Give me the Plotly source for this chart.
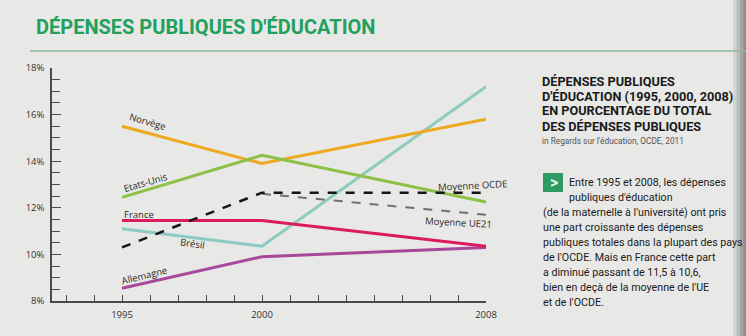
import plotly.graph_objects as go

# ---------------- data ----------------
years = [1995, 2000, 2008]
norvege = [15.5, 13.9, 15.8]
etats_unis = [12.45, 14.25, 12.25]
france = [11.45, 11.45, 10.35]
bresil = [11.1, 10.35, 17.2]
allemagne = [8.55, 9.9, 10.3]
moyenne_ocde = [10.3, 12.65, 12.65]
years_ue21 = [2000, 2008]
moyenne_ue21 = [12.6, 11.7]

y_ticks = [8, 10, 12, 14, 16, 18]
y_ticklabels = ["8%", "10%", "12%", "14%", "16%", "18%"]
x_ticks = [1995, 2000, 2008]

title = "DÉPENSES PUBLIQUES D'ÉDUCATION"
side_title = ["DÉPENSES PUBLIQUES", "D'ÉDUCATION (1995, 2000, 2008)",
              "EN POURCENTAGE DU TOTAL", "DES DÉPENSES PUBLIQUES"]
side_source = "in Regards sur l'éducation, OCDE, 2011"
side_text = ["Entre 1995 et 2008, les dépenses",
             "publiques d'éducation",
             "(de la maternelle à l'université) ont pris",
             "une part croissante des dépenses",
             "publiques totales dans la plupart des pays",
             "de l'OCDE. Mais en France cette part",
             "a diminué passant de 11,5 à 10,6,",
             "bien en deçà de la moyenne de l'UE",
             "et de l'OCDE."]

# ---------------- layout geometry ----------------
W, H = 746, 336
L, R, T, B = 52, 260, 68, 35
PW, PH = W - L - R, H - T - B


def px(xp):
    return (xp - L) / PW


def py(yp):
    return (H - B - yp) / PH


BG = "#E8E8E6"
fig = go.Figure()

series = [
    ("Brésil", years, bresil, "#8CCBC2", 3, "solid"),
    ("Norvège", years, norvege, "#EEA920", 3, "solid"),
    ("Etats-Unis", years, etats_unis, "#8DC047", 3, "solid"),
    ("Allemagne", years, allemagne, "#A7489C", 3, "solid"),
    ("France", years, france, "#DC1A5E", 3, "solid"),
    ("Moyenne UE21", years_ue21, moyenne_ue21, "#707070", 2, "dash"),
    ("Moyenne OCDE", years, moyenne_ocde, "#151515", 2.5, "dash"),
]
for name, xs, ys, col, w, dash in series:
    fig.add_trace(go.Scatter(x=xs, y=ys, mode="lines", name=name,
                             line=dict(color=col, width=w, dash=dash),
                             showlegend=False, hoverinfo="skip"))

lab_font = dict(family="Open Sans, sans-serif", size=9.5, color="#2a2a2a")
labels = [
    ("Norvège", 1995.9, 15.72, 16),
    ("Etats-Unis", 1995.85, 13.1, -16),
    ("France", 1995.6, 11.7, 0),
    ("Brésil", 1997.5, 10.45, 8),
    ("Allemagne", 1995.8, 9.1, -14),
    ("Moyenne OCDE", 2007.5, 12.95, -3),
    ("Moyenne UE21", 2007.0, 11.35, 3),
]
for text, x, y, ang in labels:
    fig.add_annotation(x=x, y=y, xref="x", yref="y", text=text, showarrow=False,
                       textangle=ang, font=lab_font)

# title
fig.add_annotation(x=px(34), y=py(27), xref="paper", yref="paper", xanchor="left",
                   yanchor="middle", text="<b>" + title + "</b>", showarrow=False,
                   font=dict(family="Roboto, sans-serif", size=20, color="#22A05C"))

# side header
for i, line in enumerate(side_title):
    fig.add_annotation(x=px(540), y=py(81 + 15 * i), xref="paper", yref="paper",
                       xanchor="left", yanchor="middle", text="<b>" + line + "</b>",
                       showarrow=False,
                       font=dict(family="Roboto, sans-serif", size=12.7, color="#1a1a1a"))
fig.add_annotation(x=px(540), y=py(141), xref="paper", yref="paper", xanchor="left",
                   yanchor="middle", text=side_source, showarrow=False,
                   font=dict(family="Roboto, sans-serif", size=8.3, color="#555555"))

for i, line in enumerate(side_text):
    xl = 567 if i < 2 else 541
    fig.add_annotation(x=px(xl), y=py(182 + 15.1 * i), xref="paper", yref="paper",
                       xanchor="left", yanchor="middle", text=line, showarrow=False,
                       font=dict(family="Roboto, sans-serif", size=10.7, color="#1a1a1a"))

# icon
fig.add_shape(type="rect", xref="paper", yref="paper", x0=px(543), x1=px(563),
              y0=py(192), y1=py(173), fillcolor="#2E9C62", line=dict(width=0))
fig.add_annotation(x=px(553.5), y=py(182.5), xref="paper", yref="paper",
                   xanchor="center", yanchor="middle", text="<b>&gt;</b>",
                   showarrow=False, font=dict(family="Roboto, sans-serif", size=16,
                                              color="#E8F5EC"))

# rule under title
fig.add_shape(type="line", xref="paper", yref="paper", x0=px(30), x1=px(746),
              y0=py(51), y1=py(51), line=dict(color="#8FB8A0", width=1.5))

# page edge at right
for i, c in enumerate(["#D4D4D2", "#BDBDBB", "#A3A3A1", "#8E8E8C"]):
    fig.add_shape(type="rect", xref="paper", yref="paper", x0=px(733 + 3.5 * i),
                  x1=px(746), y0=py(336), y1=py(0), fillcolor=c, line=dict(width=0),
                  layer="below")

axis_col = "#4a4a4a"
tick_font = dict(family="Open Sans, sans-serif", size=9.5, color="#333333")
fig.update_layout(
    width=W, height=H, margin=dict(l=L, r=R, t=T, b=B, pad=0),
    paper_bgcolor=BG, plot_bgcolor=BG,
    xaxis=dict(range=[1992.5, 2008], tickvals=x_ticks, ticktext=[str(v) for v in x_ticks],
               ticks="inside", ticklen=6, tickcolor=axis_col, tickwidth=1.2,
               showline=True, linecolor=axis_col, linewidth=1.5, showgrid=False,
               zeroline=False, tickfont=tick_font, ticklabelstandoff=4,
               minor=dict(dtick=1, tick0=1993, ticks="inside", ticklen=6,
                          tickcolor=axis_col, tickwidth=1, showgrid=False)),
    yaxis=dict(range=[8, 18], tickvals=y_ticks, ticktext=y_ticklabels,
               ticks="inside", ticklen=9, tickcolor=axis_col, tickwidth=1.2,
               showline=True, linecolor=axis_col, linewidth=1.5, showgrid=False,
               zeroline=False, tickfont=tick_font, ticklabelstandoff=4,
               minor=dict(dtick=0.5, tick0=8, ticks="inside", ticklen=8,
                          tickcolor=axis_col, tickwidth=1, showgrid=False)),
)

fig.write_html("out.html")
